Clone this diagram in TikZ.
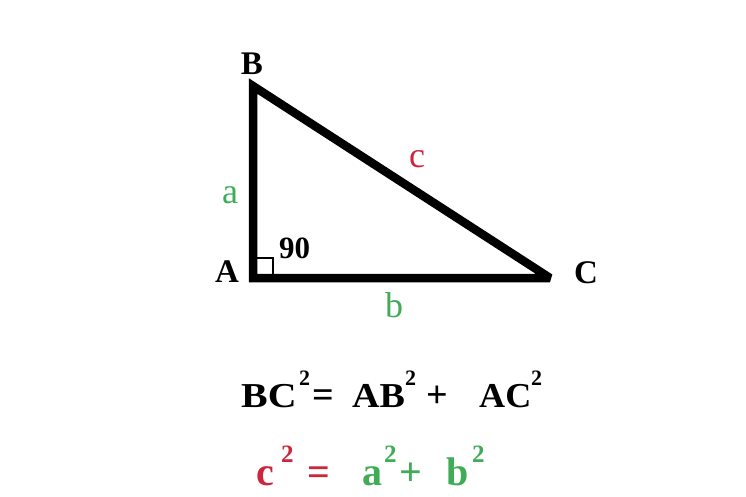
\documentclass[tikz,border=0pt]{standalone}
\usepackage{fontspec}
\setmainfont{Liberation Serif}
\definecolor{lgreen}{RGB}{64,172,88}
\definecolor{lred}{RGB}{205,38,60}
\begin{document}
\begin{tikzpicture}[x=1pt,y=1pt,
  vlab/.style={inner sep=0pt,anchor=base,font=\fontsize{33}{36}\selectfont\bfseries},
  slab/.style={inner sep=0pt,anchor=base,font=\fontsize{36}{40}\selectfont},
  eqA/.style={inner sep=0pt,anchor=base west,font=\fontsize{38}{40}\selectfont\bfseries},
  supA/.style={inner sep=0pt,anchor=base west,font=\fontsize{22}{24}\selectfont\bfseries},
  eqB/.style={inner sep=0pt,anchor=base west,font=\fontsize{40}{42}\selectfont\bfseries},
  supB/.style={inner sep=0pt,anchor=base west,font=\fontsize{25}{27}\selectfont\bfseries}]
\useasboundingbox (0,0) rectangle (746,496);
\fill[white] (0,0) rectangle (746,496);
% vertices
\coordinate (B) at (253,410);
\coordinate (A) at (253,218);
\coordinate (C) at (550,218);
\draw[line width=8.5pt,line join=miter,miter limit=2.2] (A) -- (B) -- (C) -- cycle;
% right angle mark
\draw[line width=2.2pt] (257,238) -| (273,222);
% labels
\node[vlab] (lB) at (252,421) {B};
\node[vlab] (lA) at (227,214) {A};
\node[vlab] (lC) at (586,213) {C};
\node[vlab,anchor=base west,font=\fontsize{31}{34}\selectfont\bfseries] (l90) at (279,238) {90};
\node[slab,text=lgreen] (la) at (230,293) {a};
\node[slab,text=lred] (lc) at (417,328) {c};
\node[slab,text=lgreen] (lb) at (394,179) {b};
% equation 1
\node[eqA] (e1) at (241,89) {\scalebox{1.05}[0.92]{BC}};
\node[supA] (e1s) at (299,111) {2};
\node[eqA] (e1eq) at (312,89) {=};
\node[eqA] (e1ab) at (352,89) {\scalebox{1.0}[0.92]{AB}};
\node[supA] (e1abs) at (405,111) {2};
\node[eqA] (e1p) at (426,89) {+};
\node[eqA] (e1ac) at (479,89) {\scalebox{0.95}[0.92]{AC}};
\node[supA] (e1acs) at (531,111) {2};
% equation 2
\node[eqB,text=lred] (e2c) at (256,11) {c};
\node[supB,text=lred] (e2cs) at (281,34) {2};
\node[eqB,text=lred] (e2eq) at (307,11) {=};
\node[eqB,text=lgreen] (e2a) at (362,11) {a};
\node[supB,text=lgreen] (e2as) at (384,34) {2};
\node[eqB,text=lgreen] (e2p) at (399,11) {+};
\node[eqB,text=lgreen] (e2b) at (446,11) {b};
\node[supB,text=lgreen] (e2bs) at (472,34) {2};
\end{tikzpicture}
\end{document}
